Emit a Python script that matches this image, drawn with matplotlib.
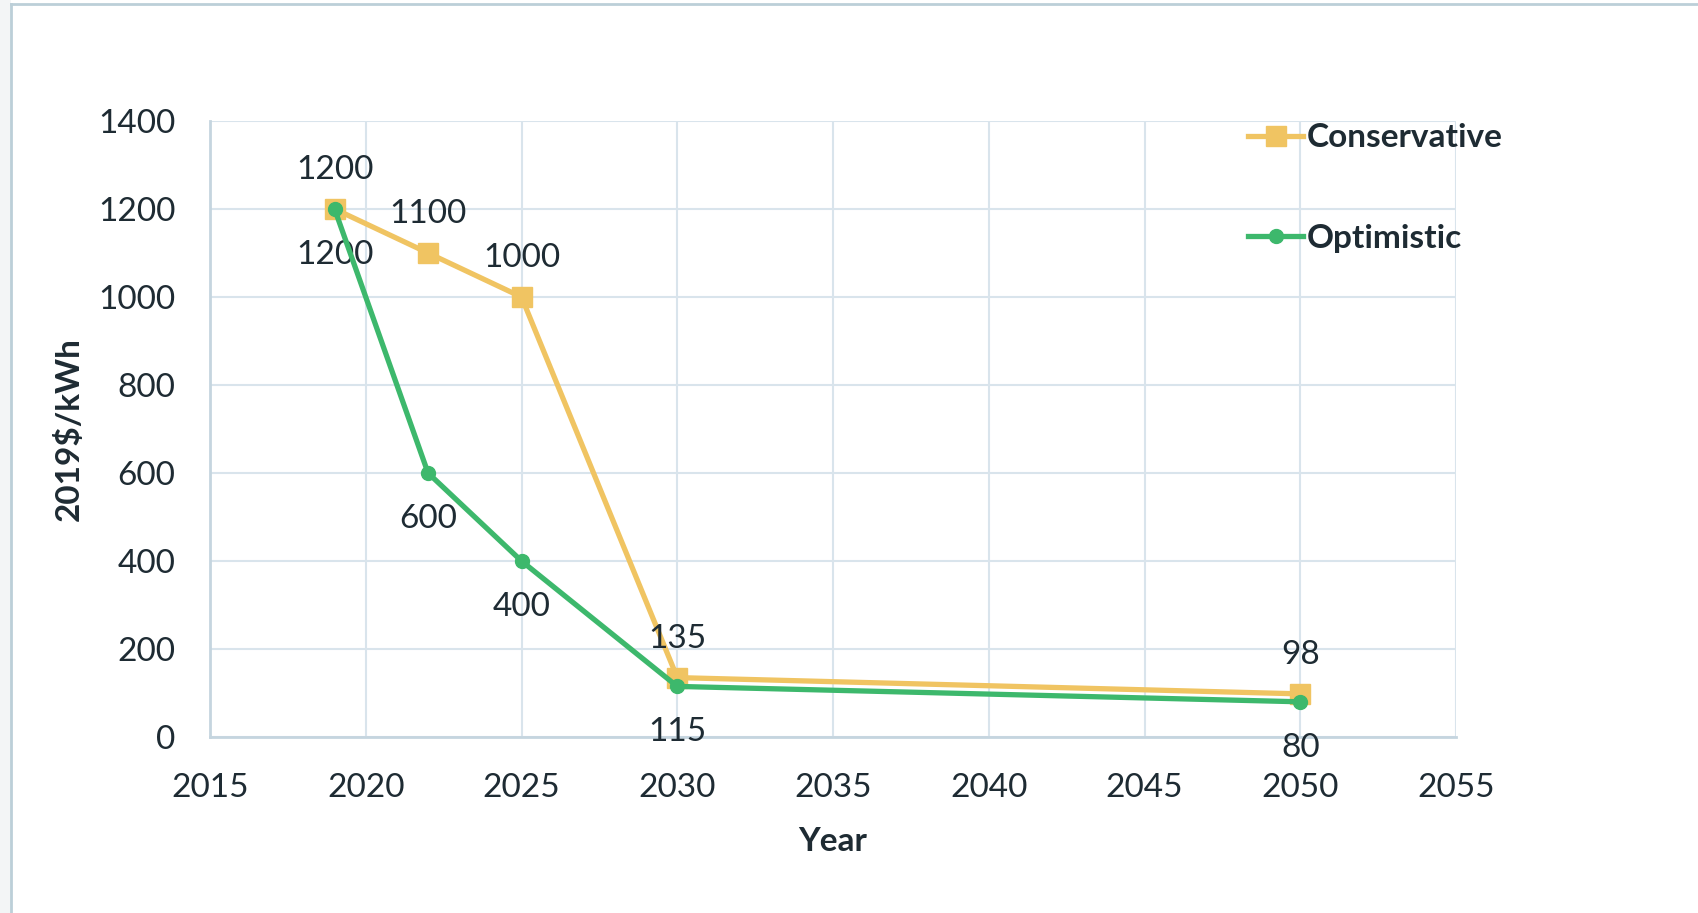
import matplotlib
matplotlib.use("Agg")
from matplotlib import pyplot as plt
from matplotlib.lines import Line2D
from matplotlib.patches import Rectangle

# data
years_cons = [2019, 2022, 2025, 2030, 2050]
cons = [1200, 1100, 1000, 135, 98]
years_opt = [2019, 2022, 2025, 2030, 2050]
opt = [1200, 600, 400, 115, 80]

c_cons = '#F0C462'
c_opt = '#3DB86C'
txt = '#1E2B33'
grid = '#D9E4EC'
fs = 24

plt.rcParams['font.family'] = ['Lato', 'DejaVu Sans']

W, H = 1698, 913
fig = plt.figure(figsize=(W / 100, H / 100), dpi=100)
fig.patch.set_facecolor('white')

# outer frame of the pasted chart
fig.patches.append(Rectangle((0, 0), 11 / W, 1, transform=fig.transFigure,
                             facecolor='#F3F5F6', edgecolor='none', zorder=0))
fig.lines.append(Line2D([11 / W, 11 / W], [0, 1 - 4 / H], transform=fig.transFigure,
                        color='#BCCFD8', lw=2))
fig.lines.append(Line2D([11 / W, 1], [1 - 4 / H, 1 - 4 / H], transform=fig.transFigure,
                        color='#BCCFD8', lw=2))

left, right, top, bottom = 210, 1456, 121, 737
ax = fig.add_axes([left / W, 1 - bottom / H, (right - left) / W, (bottom - top) / H])

ax.plot(years_cons, cons, color=c_cons, lw=3.8, marker='s', ms=14,
        label='Conservative', zorder=3)
ax.plot(years_opt, opt, color=c_opt, lw=3.8, marker='o', ms=10,
        label='Optimistic', zorder=4)

for x, y in zip(years_cons, cons):
    ax.annotate(str(y), (x, y), xytext=(0, 28), textcoords='offset points',
                ha='center', va='center', fontsize=fs, color=txt)
for x, y in zip(years_opt, opt):
    ax.annotate(str(y), (x, y), xytext=(0, -33), textcoords='offset points',
                ha='center', va='center', fontsize=fs, color=txt)

ax.set_xlim(2015, 2055)
ax.set_ylim(0, 1400)
ax.set_xticks(range(2015, 2056, 5))
ax.set_yticks(range(0, 1401, 200))
ax.grid(True, color=grid, lw=1.5)
ax.set_axisbelow(True)
for s in ['top', 'right']:
    ax.spines[s].set_visible(False)
for s in ['left', 'bottom']:
    ax.spines[s].set_color('#C5D5DF')
    ax.spines[s].set_linewidth(2)
ax.tick_params(length=0, labelsize=fs, colors=txt)
ax.tick_params(axis='x', pad=26)
ax.tick_params(axis='y', pad=25)

ax.set_xlabel('Year', fontsize=fs, fontweight='bold', color=txt, labelpad=17)
ax.set_ylabel('2019$/kWh', fontsize=fs, fontweight='bold', color=txt, labelpad=10)

leg = ax.legend(loc='upper left', bbox_to_anchor=(1008 / (right - left), 1.045),
                frameon=False, labelspacing=2.15,
                handlelength=1.65, handletextpad=0.1,
                prop={'weight': 'bold', 'size': fs})
for t in leg.get_texts():
    t.set_color(txt)

fig.savefig('out.png', dpi=100)
